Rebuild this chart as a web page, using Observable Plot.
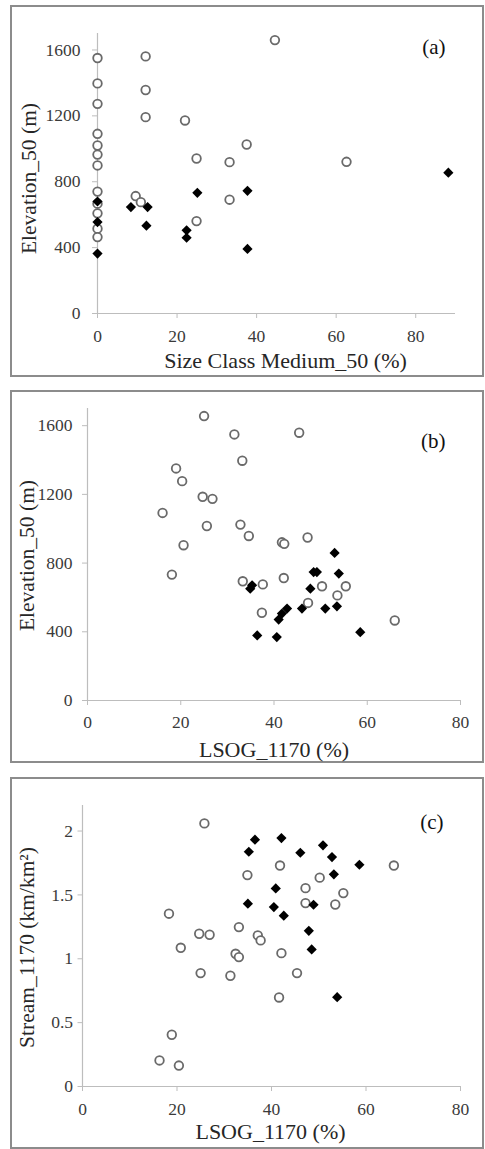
<!DOCTYPE html>
<html>
<head>
<meta charset="utf-8">
<script src="https://cdn.jsdelivr.net/npm/d3@7"></script>
<script src="https://cdn.jsdelivr.net/npm/@observablehq/plot@0.6"></script>
<style>
  html, body { margin: 0; padding: 0; background: #fff; }
  #root { position: relative; width: 485px; height: 1149px; overflow: hidden; }
  .frame { position: absolute; box-sizing: border-box; border: 2px solid #8c8c8c; }
  .panel { position: absolute; left: 0; }
</style>
</head>
<body>
<div id="root"></div>
<script>
// ---------- Panel (a): Size Class Medium_50 (%) vs Elevation_50 (m) ----------
const aOpenX = [0,0,0,0,0,0,0,0,0,0,0,0, 12.1,12.1,12.1,22.0,44.6,37.5,24.9,33.2,62.6,33.2,24.9,9.6,10.9];
const aOpenY = [1551,1397,1273,1091,1020,965,899,740,667,608,515,464, 1561,1357,1192,1172,1660,1026,941,919,921,691,561,713,676];
const aFillX = [0,0,0,88.2,25.1,37.7,8.4,12.6,12.3,22.4,22.4,37.7];
const aFillY = [680,555,364,855,733,745,646,646,533,505,460,392];

// ---------- Panel (b): LSOG_1170 (%) vs Elevation_50 (m) ----------
const bOpenX = [25.0,31.5,45.4,33.2,19.0,20.3,24.7,26.8,16.1,25.6,32.8,34.6,20.6,41.7,42.2,47.2,18.1,33.3,37.6,42.1,50.3,55.4,53.6,47.3,37.4,65.9];
const bOpenY = [1656,1549,1559,1396,1351,1277,1186,1174,1092,1016,1024,958,904,921,912,949,733,694,676,713,665,665,612,568,511,466];
const bFillX = [53.0,48.5,49.2,53.9,47.8,35.3,34.9,46.0,51.0,53.5,42.8,41.7,41.0,36.4,40.6,58.5];
const bFillY = [859,748,748,739,651,671,651,535,535,548,535,506,471,379,369,398];

// ---------- Panel (c): LSOG_1170 (%) vs Stream_1170 (km/km²) ----------
const cOpenX = [25.8,41.8,65.9,34.9,50.2,47.2,55.2,47.2,53.5,18.3,33.1,24.7,26.9,37.1,37.7,20.8,42.1,32.4,33.1,25.0,31.3,45.4,41.6,18.9,16.3,20.4];
const cOpenY = [2.06,1.73,1.73,1.655,1.635,1.553,1.514,1.436,1.425,1.353,1.248,1.196,1.188,1.183,1.144,1.086,1.044,1.039,1.013,0.888,0.867,0.888,0.697,0.405,0.204,0.164];
const cFillX = [36.5,42.1,35.2,46.1,50.9,52.8,58.6,53.2,40.9,35.0,40.5,48.9,42.6,47.9,48.5,53.9];
const cFillY = [1.932,1.945,1.838,1.830,1.888,1.796,1.736,1.661,1.551,1.431,1.405,1.423,1.337,1.219,1.073,0.699];

// ---------- Axis ticks & labels ----------
const xTicks = [0, 20, 40, 60, 80];
const elevTicks = [0, 400, 800, 1200, 1600];
const streamTicks = [0, 0.5, 1, 1.5, 2];
const panelTags = ["(a)", "(b)", "(c)"];
const xTitles = ["Size Class Medium_50 (%)", "LSOG_1170 (%)", "LSOG_1170 (%)"];
const yTitles = ["Elevation_50 (m)", "Elevation_50 (m)", "Stream_1170 (km/km\u00B2)"];

const zip = (xs, ys) => xs.map((x, i) => ({x, y: ys[i]}));

const FONT = "'Liberation Serif', 'Times New Roman', serif";
const AXIS = "#bdbdbd";
const TICKTEXT = "#3a3a3a";
const TITLE = "#262626";

function makePanel(cfg) {
  const open = zip(cfg.openX, cfg.openY);
  const fill = zip(cfg.fillX, cfg.fillY);
  return Plot.plot({
    width: 485,
    height: cfg.height,
    marginLeft: cfg.ml, marginRight: cfg.mr, marginTop: cfg.mt, marginBottom: cfg.mb,
    style: {fontFamily: FONT, background: "transparent", overflow: "visible"},
    x: {domain: cfg.xDomain},
    y: {domain: cfg.yDomain},
    marks: [
      Plot.ruleX([0], {stroke: AXIS, strokeWidth: 1.2}),
      Plot.ruleY([0], {stroke: AXIS, strokeWidth: 1.2}),
      Plot.axisY({ticks: cfg.yTicks, tickSize: cfg.ytSize, tickPadding: cfg.ytPad, fontSize: 17.5,
                  stroke: AXIS, fill: TICKTEXT, tickFormat: d => String(d), label: null}),
      Plot.axisX({ticks: xTicks, tickSize: 5, tickPadding: cfg.xtPad, fontSize: 17.5,
                  stroke: AXIS, fill: TICKTEXT, tickFormat: d => String(d), label: null}),
      Plot.dot(open, {x: "x", y: "y", r: 4.3, stroke: "#6a6a6a", strokeWidth: 1.8, fill: "white"}),
      Plot.dot(fill, {x: "x", y: "y", symbol: "diamond2", r: 4.6, fill: "black", stroke: "none"}),
      Plot.text([cfg.tag], {frameAnchor: "top-right", text: d => d, textAnchor: "end", lineAnchor: "middle", dx: cfg.tagDx, dy: cfg.tagDy, fontSize: 21, fill: "#111"}),
      Plot.text([cfg.xTitle], {frameAnchor: "bottom", text: d => d, textAnchor: "middle", lineAnchor: "middle", dx: cfg.xlDx, dy: cfg.xlDy, fontSize: 22, fill: TITLE}),
      Plot.text([cfg.yTitle], {frameAnchor: "left", text: d => d, rotate: -90, textAnchor: "middle", lineAnchor: "middle", dx: cfg.ylDx, dy: cfg.ylDy, fontSize: 21.5, fill: TITLE})
    ]
  });
}

const root = document.getElementById("root");

const frames = [
  {left: 10, top: 5, width: 474, height: 372},
  {left: 10, top: 390, width: 474, height: 373},
  {left: 10, top: 777, width: 474, height: 372}
];
frames.forEach(f => {
  const d = document.createElement("div");
  d.className = "frame";
  Object.assign(d.style, {left: f.left + "px", top: f.top + "px", width: f.width + "px", height: f.height + "px"});
  root.appendChild(d);
});

const panels = [
  {top: 0, height: 378, ml: 97, mr: 30, mt: 33, mb: 65, xDomain: [0, 90], yDomain: [0, 1700],
   openX: aOpenX, openY: aOpenY, fillX: aFillX, fillY: aFillY, yTicks: elevTicks,
   ytSize: 5, ytPad: 12, xtPad: 11, tagDx: -10, tagDy: 14, xlDx: 9, xlDy: 47, ylDx: -68, ylDy: 5},
  {top: 385, height: 380, ml: 87, mr: 25, mt: 23, mb: 65, xDomain: [0, 80], yDomain: [0, 1700],
   openX: bOpenX, openY: bOpenY, fillX: bFillX, fillY: bFillY, yTicks: elevTicks,
   ytSize: 5, ytPad: 10, xtPad: 10, tagDx: -15, tagDy: 33, xlDx: 0, xlDy: 49, ylDx: -60, ylDy: 1},
  {top: 770, height: 379, ml: 82, mr: 25, mt: 35, mb: 63, xDomain: [0, 80], yDomain: [0, 2.2],
   openX: cOpenX, openY: cOpenY, fillX: cFillX, fillY: cFillY, yTicks: streamTicks,
   ytSize: 4.5, ytPad: 5, xtPad: 11, tagDx: -17, tagDy: 17, xlDx: -1, xlDy: 45, ylDx: -55, ylDy: 1.5}
];

panels.forEach((p, i) => {
  const svg = makePanel({...p, tag: panelTags[i], xTitle: xTitles[i], yTitle: yTitles[i]});
  const wrap = document.createElement("div");
  wrap.className = "panel";
  wrap.style.top = p.top + "px";
  wrap.appendChild(svg);
  root.appendChild(wrap);
});
</script>
</body>
</html>
